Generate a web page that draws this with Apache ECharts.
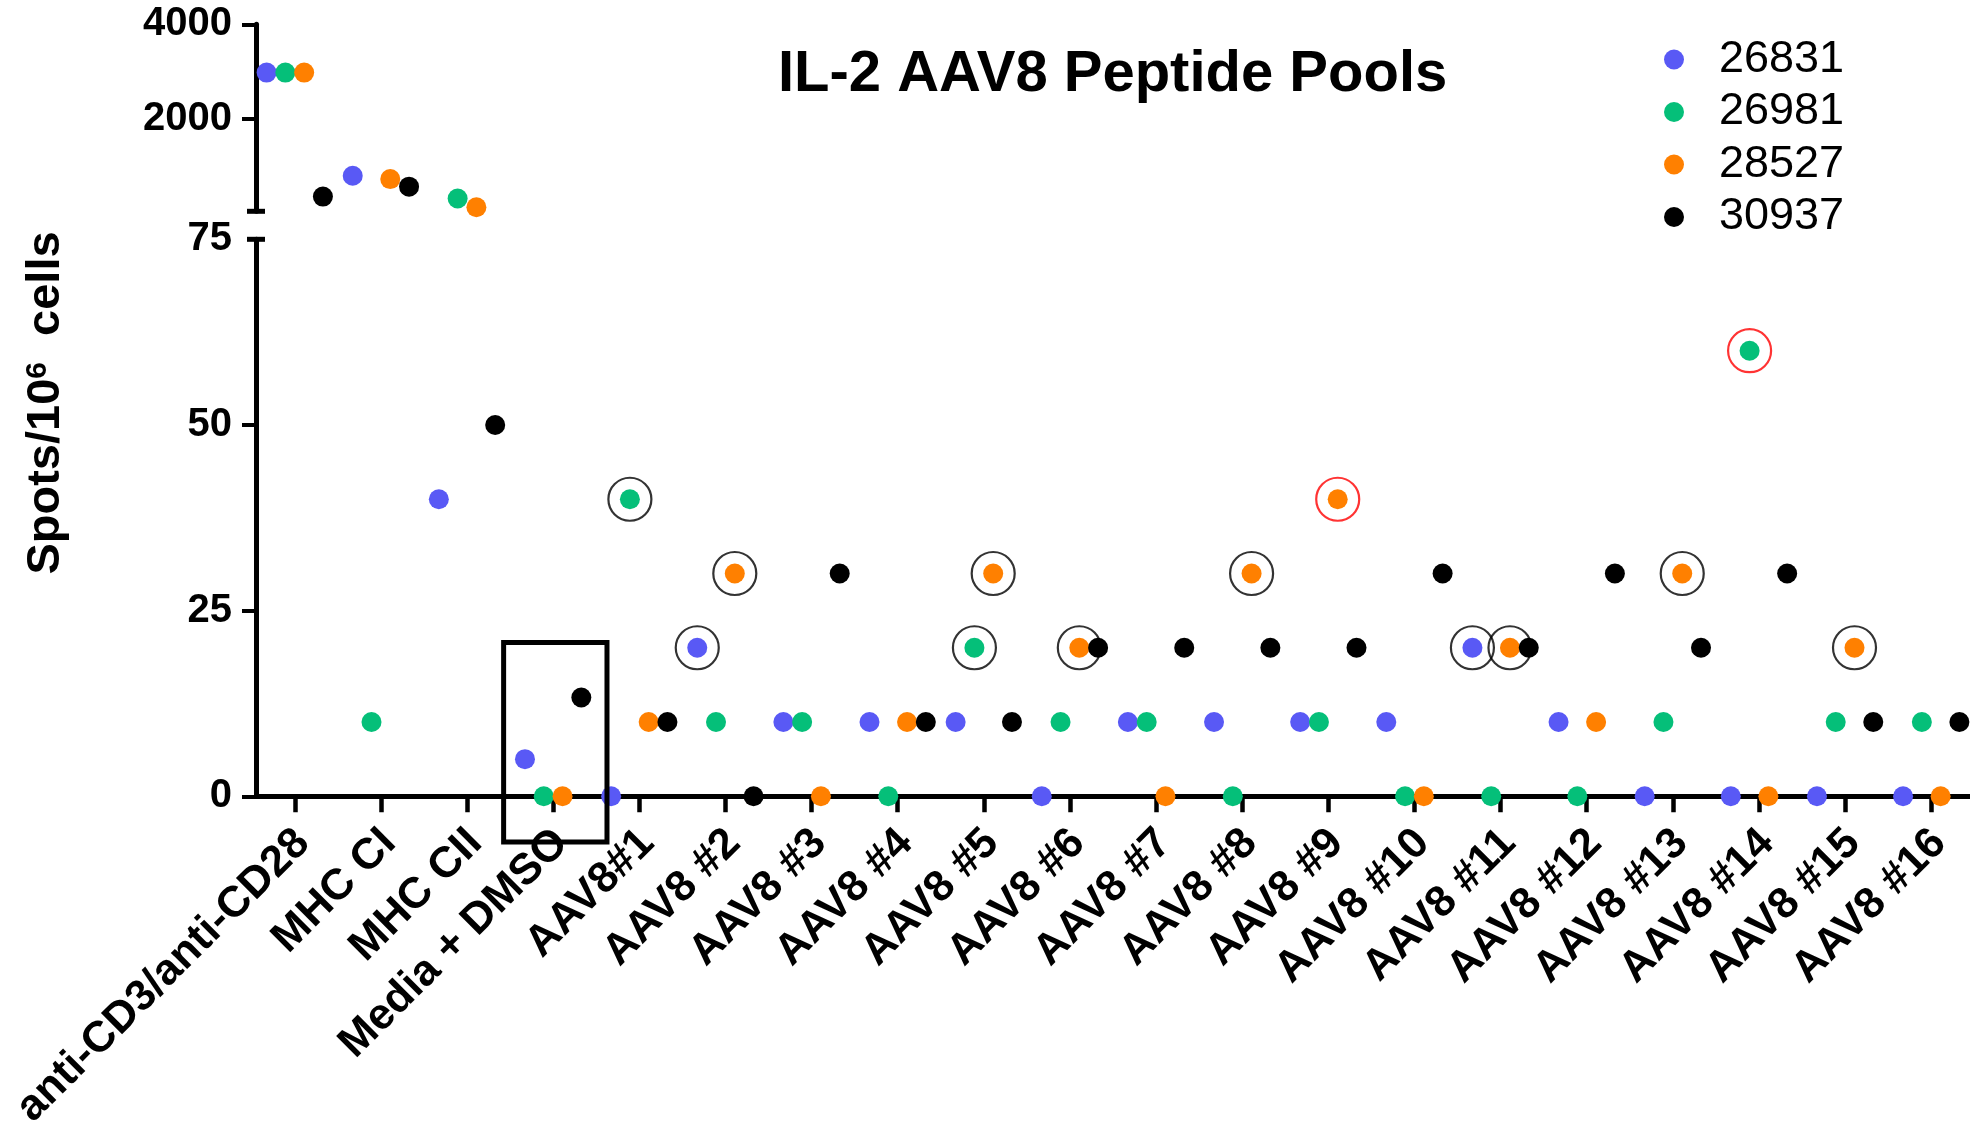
<!DOCTYPE html>
<html>
<head>
<meta charset="utf-8">
<style>
  html, body { margin: 0; padding: 0; background: #fff; }
  #chart { width: 1970px; height: 1124px; }
</style>
<script src="https://cdn.jsdelivr.net/npm/echarts@6/dist/echarts.min.js"></script>
</head>
<body>
<div id="chart"></div>
<script>
// categories on the x axis
const categories = [
  "anti-CD3/anti-CD28", "MHC CI", "MHC CII", "Media + DMSO", "AAV8#1",
  "AAV8 #2", "AAV8 #3", "AAV8 #4", "AAV8 #5", "AAV8 #6", "AAV8 #7",
  "AAV8 #8", "AAV8 #9", "AAV8 #10", "AAV8 #11", "AAV8 #12", "AAV8 #13",
  "AAV8 #14", "AAV8 #15", "AAV8 #16"
];

// donors
const seriesNames = ["26831", "26981", "28527", "30937"];
const s26831 = [2980, 800, 40, 5, 0, 20, 10, 10, 10, 0, 10, 10, 10, 10, 20, 10, 0, 0, 0, 0];
const s26981 = [2980, 10, 320, 0, 40, 10, 10, 0, 20, 10, 10, 0, 10, 0, 0, 0, 10, 60, 10, 10];
const s28527 = [2980, 730, 135, 0, 10, 30, 0, 10, 30, 20, 0, 30, 40, 0, 20, 10, 30, 0, 20, 0];
const s30937 = [360, 570, 50, 13.3, 10, 0, 30, 10, 10, 20, 20, 20, 20, 30, 20, 30, 20, 30, 10, 10];

// axis ticks (broken y axis: lower 0-75, upper 50-4000)
const lowerTicks = [0, 25, 50];
const lowerLabels = [0, 25, 50, 75];
const upperTicks = [2000, 4000];

// circled points: [category, donor index]
const blackRings = [[4, 1], [5, 0], [5, 2], [8, 1], [8, 2], [9, 2], [11, 2], [14, 0], [14, 2], [16, 2], [18, 2]];
const redRings = [[12, 2], [17, 1]];

// box round Media + DMSO: [x0, yTop, x1, yBottom]
const dmsoBox = [2.425, 20.7, 3.625, -6.15];

const colors = ["#5959F5", "#05BF79", "#FF8000", "#000000"];
const allData = [s26831, s26981, s28527, s30937];
const FONT = "Liberation Sans, Arial, sans-serif";
const BREAK = 75;
const X_MIN = -0.45, X_MAX = 19.45;
const DODGE = 0.218;      // spacing between donors inside a category
const LABEL_SHIFT = 0.095; // rotated labels sit a little right of their tick

const xOf = (i, k) => i + (k - 1.5) * DODGE;
const xTicks = categories.map((c, i) => i);

const series = [];
allData.forEach((vals, k) => {
  const top = [], bottom = [];
  vals.forEach((v, i) => {
    (v > BREAK ? top : bottom).push([xOf(i, k), v]);
  });
  [[top, 0], [bottom, 1]].forEach(([d, g]) => {
    series.push({
      name: seriesNames[k],
      type: "scatter",
      xAxisIndex: g,
      yAxisIndex: g,
      data: d,
      symbol: "circle",
      symbolSize: 20,
      clip: false,
      z: 5,
      itemStyle: { color: colors[k], opacity: 1 },
      emphasis: { disabled: true },
    });
  });
});

const ringData = [];
blackRings.forEach(([i, k]) => ringData.push({ value: [xOf(i, k), allData[k][i]], itemStyle: { borderColor: "#000" } }));
redRings.forEach(([i, k]) => ringData.push({ value: [xOf(i, k), allData[k][i]], itemStyle: { borderColor: "#FF0000" } }));

series.push({
  name: "rings",
  type: "scatter",
  xAxisIndex: 1,
  yAxisIndex: 1,
  data: ringData,
  symbol: "circle",
  symbolSize: 43,
  clip: false,
  z: 4,
  itemStyle: { color: "transparent", borderWidth: 2.2 },
  emphasis: { disabled: true },
});

// short caps at the ends of the axis break
const capItem = (params, api) => {
  const p = api.coord([api.value(0), api.value(1)]);
  return {
    type: "line",
    shape: { x1: p[0] - 9, y1: p[1], x2: p[0] + 9, y2: p[1] },
    style: { stroke: "#000", lineWidth: 5 },
  };
};
series.push({
  name: "capTop", type: "custom", xAxisIndex: 0, yAxisIndex: 0, clip: false, z: 3,
  data: [[X_MIN, 50]], renderItem: capItem, silent: true,
});
series.push({
  name: "capBottom", type: "custom", xAxisIndex: 1, yAxisIndex: 1, clip: false, z: 3,
  data: [[X_MIN, BREAK]], renderItem: capItem, silent: true,
});

series.push({
  name: "box", type: "custom", xAxisIndex: 1, yAxisIndex: 1, clip: false, z: 6, silent: true,
  data: [dmsoBox],
  renderItem: (params, api) => {
    const a = api.coord([api.value(0), api.value(1)]);
    const b = api.coord([api.value(2), api.value(3)]);
    return {
      type: "rect",
      shape: { x: a[0], y: a[1], width: b[0] - a[0], height: b[1] - a[1] },
      style: { fill: "none", stroke: "#000", lineWidth: 5 },
    };
  },
});

const yLabel = {
  fontSize: 40, fontWeight: "bold", color: "#000", fontFamily: FONT, margin: 24,
  formatter: (v) => String(v),
};
const axisLine = { show: true, onZero: false, lineStyle: { color: "#000", width: 5 } };

const option = {
  animation: false,
  backgroundColor: "#fff",
  title: {
    text: "IL-2 AAV8 Peptide Pools",
    left: 778,
    top: 46,
    padding: 0,
    textStyle: { fontSize: 58, fontWeight: "bold", color: "#000", fontFamily: FONT },
  },
  legend: {
    data: seriesNames,
    orient: "vertical",
    left: 1664,
    top: 37,
    padding: 0,
    icon: "circle",
    itemWidth: 20,
    itemHeight: 20,
    itemGap: 7.5,
    selectedMode: false,
    textStyle: { fontSize: 45, color: "#000", fontFamily: FONT, padding: [0, 0, 0, 30] },
  },
  graphic: [{
    type: "text",
    x: 46,
    y: 403,
    rotation: Math.PI / 2,
    style: {
      text: "{a|Spots/10}{s|6}{a|  cells}",
      align: "center",
      verticalAlign: "middle",
      rich: {
        a: { fontSize: 47, fontWeight: "bold", fontFamily: FONT, fill: "#000" },
        s: { fontSize: 30, fontWeight: "bold", fontFamily: FONT, fill: "#000", verticalAlign: "top" },
      },
    },
  }],
  grid: [
    { left: 256, right: 0, top: 24.3, height: 187, outerBoundsMode: "none" },
    { left: 256, right: 0, top: 239.3, height: 557, outerBoundsMode: "none" },
  ],
  xAxis: [
    { gridIndex: 0, type: "value", min: X_MIN, max: X_MAX, show: false },
    {
      gridIndex: 1, type: "value", min: X_MIN, max: X_MAX, position: "bottom",
      axisLine: axisLine,
      axisTick: { show: true, length: 16, customValues: xTicks, lineStyle: { color: "#000", width: 4.5 } },
      axisLabel: { show: false },
      splitLine: { show: false },
    },
    {
      // label-only axis, offset slightly so the rotated names end just right of each tick
      gridIndex: 1, type: "value", position: "bottom", offset: 0,
      min: X_MIN - LABEL_SHIFT, max: X_MAX - LABEL_SHIFT,
      axisLine: { show: false },
      axisTick: { show: false },
      axisLabel: {
        customValues: xTicks,
        formatter: (v) => categories[Math.round(v)],
        rotate: 45,
        fontSize: 43.5, fontWeight: "bold", color: "#000", fontFamily: FONT,
        margin: 40,
        verticalAlign: "middle",
      },
      splitLine: { show: false },
    },
  ],
  yAxis: [
    {
      gridIndex: 0, type: "value", min: 50, max: 4000,
      axisLine: axisLine,
      axisTick: { show: true, length: 14, customValues: upperTicks, lineStyle: { color: "#000", width: 4 } },
      axisLabel: Object.assign({ customValues: upperTicks }, yLabel),
      splitLine: { show: false },
    },
    {
      gridIndex: 1, type: "value", min: 0, max: BREAK,
      axisLine: axisLine,
      axisTick: { show: true, length: 14, customValues: lowerTicks, lineStyle: { color: "#000", width: 4 } },
      axisLabel: Object.assign({ customValues: lowerLabels }, yLabel),
      splitLine: { show: false },
    },
  ],
  series: series,
};

const chart = echarts.init(document.getElementById("chart"), null, { renderer: "canvas" });
chart.setOption(option);
</script>
</body>
</html>
